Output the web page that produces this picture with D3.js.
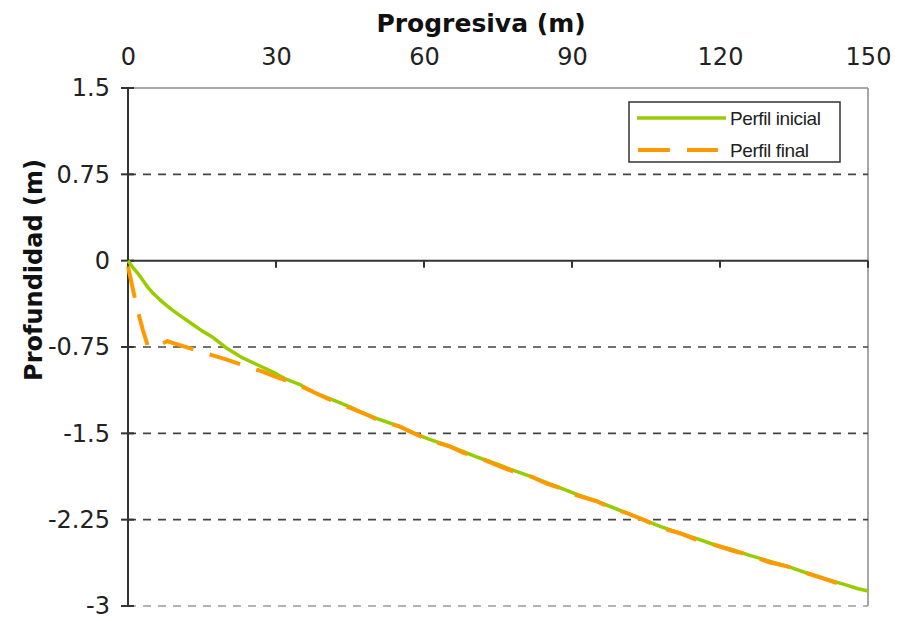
<!DOCTYPE html>
<html><head><meta charset="utf-8">
<script src="https://cdn.jsdelivr.net/npm/d3@7"></script>
<style>body{margin:0;background:#fff}svg{display:block}</style>
</head><body><svg id="c" width="916" height="621"></svg>
<script>
const xTicks = [0, 30, 60, 90, 120, 150];
const yTicks = [1.5, 0.75, 0, -0.75, -1.5, -2.25, -3];
const yTickLabels = ["1.5", "0.75", "0", "-0.75", "-1.5", "-2.25", "-3"];
const seriesNames = ["Perfil inicial", "Perfil final"];

const inicialX = [0,1,2,3,4,5,6,7,9,11,13,15,17,20,23,26,29.5,32,35,38,41,45,48,51,55,58,61,65,68,71,75,78,82,85,88,91,95,98,101,104.4,108,112,115,119,122.6,126,130,134,138,141.7,145,148,150];
const inicialY = [0,-0.06,-0.11,-0.17,-0.23,-0.28,-0.32,-0.36,-0.43,-0.49,-0.55,-0.61,-0.66,-0.76,-0.84,-0.90,-0.97,-1.03,-1.08,-1.15,-1.20,-1.27,-1.33,-1.38,-1.44,-1.50,-1.55,-1.61,-1.66,-1.71,-1.77,-1.82,-1.88,-1.93,-1.98,-2.03,-2.09,-2.14,-2.19,-2.25,-2.31,-2.37,-2.41,-2.47,-2.51,-2.56,-2.61,-2.66,-2.72,-2.77,-2.81,-2.85,-2.87];

const finalX = [0,1,2,3,4,5,6.5,8,9.5,11,14,17,20,23.5,27,30,32,35,38,41,45,48,51,55,58,61,65,68,71,75,78,82,85,88,91,95,98,101,104.4,108,112,115,119,122.6,126,130,134,138,141.7,145,147];
const finalY = [-0.05,-0.25,-0.44,-0.60,-0.74,-0.75,-0.73,-0.70,-0.72,-0.74,-0.78,-0.82,-0.86,-0.91,-0.96,-1.01,-1.04,-1.09,-1.15,-1.21,-1.28,-1.33,-1.39,-1.44,-1.50,-1.56,-1.61,-1.67,-1.71,-1.78,-1.83,-1.88,-1.94,-1.98,-2.04,-2.09,-2.15,-2.19,-2.25,-2.32,-2.37,-2.42,-2.47,-2.52,-2.56,-2.62,-2.66,-2.72,-2.77,-2.82,-2.85];

const svg = d3.select("#c");
const L = 128, R = 868, T = 88, B = 606;
const x = d3.scaleLinear().domain([0, 150]).range([L, R]);
const y = d3.scaleLinear().domain([-3, 1.5]).range([B, T]);
const font = "'DejaVu Sans', Verdana, sans-serif";

// plot border top/right
svg.append("line").attr("x1", L).attr("x2", R).attr("y1", T).attr("y2", T).attr("stroke", "#a6a6a6").attr("stroke-width", 2);
svg.append("line").attr("x1", R).attr("x2", R).attr("y1", T).attr("y2", B).attr("stroke", "#a6a6a6").attr("stroke-width", 2);

// gridlines
svg.append("g").selectAll("line").data(yTicks.filter(v => v !== 1.5 && v !== 0)).join("line")
  .attr("x1", L).attr("x2", R).attr("y1", d => y(d)).attr("y2", d => y(d))
  .attr("stroke", d => d === -3 ? "#9a9a9a" : "#444").attr("stroke-width", 1.6).attr("stroke-dasharray", "8,7");

// y axis
const yAxis = d3.axisLeft(y).tickValues(yTicks).tickFormat((d, i) => yTickLabels[i]).tickSize(0).tickPadding(18);
const gy = svg.append("g").attr("transform", `translate(${L},0)`).call(yAxis);
gy.select(".domain").remove();
gy.selectAll("text").attr("font-family", font).attr("font-size", 24).attr("fill", "#222");
svg.append("line").attr("x1", L).attr("x2", L).attr("y1", T).attr("y2", B).attr("stroke", "#333").attr("stroke-width", 2);
svg.append("g").selectAll("line").data(yTicks).join("line")
  .attr("x1", L - 7).attr("x2", L + 6).attr("y1", d => y(d)).attr("y2", d => y(d)).attr("stroke", "#333").attr("stroke-width", 2);

// x axis line at y=0
svg.append("line").attr("x1", L).attr("x2", R).attr("y1", y(0)).attr("y2", y(0)).attr("stroke", "#333").attr("stroke-width", 2);
svg.append("g").selectAll("line").data(xTicks).join("line")
  .attr("x1", d => x(d)).attr("x2", d => x(d)).attr("y1", y(0)).attr("y2", y(0) + 7).attr("stroke", "#333").attr("stroke-width", 2);

// x tick labels on top
const xAxis = d3.axisTop(x).tickValues(xTicks).tickSize(0).tickPadding(0);
const gx = svg.append("g").attr("transform", `translate(0,65)`).call(xAxis);
gx.select(".domain").remove();
gx.selectAll("text").attr("font-family", font).attr("font-size", 24).attr("fill", "#222").attr("dy", 0);

// titles
svg.append("text").attr("x", 481).attr("y", 32).attr("text-anchor", "middle")
  .attr("font-family", font).attr("font-weight", "bold").attr("font-size", 25).attr("fill", "#111").text("Progresiva (m)");
svg.append("text").attr("transform", "translate(42,270) rotate(-90)").attr("text-anchor", "middle")
  .attr("font-family", font).attr("font-weight", "bold").attr("font-size", 24).attr("fill", "#111").text("Profundidad (m)");

// lines
const line = d3.line().x(d => x(d[0])).y(d => y(d[1]));
const inicial = inicialX.map((v, i) => [v, inicialY[i]]);
const final = finalX.map((v, i) => [v, finalY[i]]);
svg.append("path").datum(inicial).attr("d", line).attr("fill", "none").attr("stroke", "#99CC00").attr("stroke-width", 3.5).attr("stroke-linejoin", "round");
svg.append("path").datum(final).attr("d", line).attr("fill", "none").attr("stroke", "#FF9900").attr("stroke-width", 4).attr("stroke-dasharray", "32,17");

// legend
const lg = svg.append("g");
lg.append("rect").attr("x", 629).attr("y", 102).attr("width", 211).attr("height", 60).attr("fill", "#fff").attr("stroke", "#333").attr("stroke-width", 1.5);
lg.append("line").attr("x1", 637).attr("x2", 726).attr("y1", 118).attr("y2", 118).attr("stroke", "#99CC00").attr("stroke-width", 3.5);
lg.append("line").attr("x1", 638).attr("x2", 718).attr("y1", 150).attr("y2", 150).attr("stroke", "#FF9900").attr("stroke-width", 4).attr("stroke-dasharray", "32,17");
lg.selectAll("text").data(seriesNames).join("text")
  .attr("x", 730).attr("y", (d, i) => 125 + i * 32)
  .attr("font-family", "'Liberation Sans', Arial, sans-serif").attr("font-size", 19).attr("letter-spacing", -0.4).attr("fill", "#222").text(d => d);
</script></body></html>
